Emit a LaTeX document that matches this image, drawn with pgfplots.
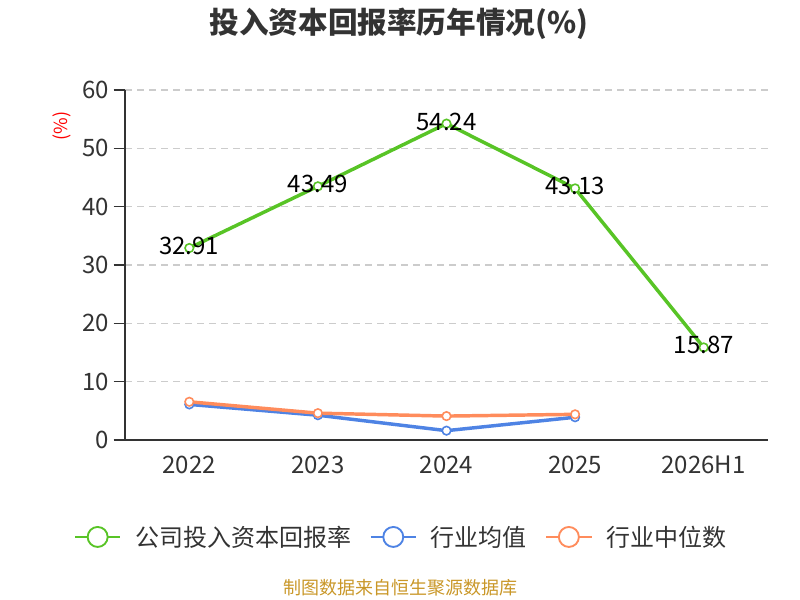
\documentclass[border=0pt]{standalone}
\usepackage{fontspec}
\setmainfont{Noto Sans CJK SC}
\usepackage{pgfplots}
\pgfplotsset{compat=1.18}
\definecolor{cgreen}{RGB}{88,196,38}
\definecolor{cblue}{RGB}{78,131,228}
\definecolor{corange}{RGB}{255,140,92}
\definecolor{ctext}{RGB}{51,51,51}
\definecolor{cgrid}{RGB}{204,204,204}
\definecolor{csrc}{RGB}{201,151,40}
\begin{document}
\begin{tikzpicture}
\path[use as bounding box] (0,0) rectangle (600pt,450pt);
\node[font=\fontsize{22.2}{26}\selectfont\bfseries, text=ctext] at (299.25pt,432pt) {投入资本回报率历年情况(\%)};
\node[font=\fontsize{13.5}{16}\selectfont, text=csrc] at (300pt,9pt) {制图数据来自恒生聚源数据库};
\node[font=\fontsize{13.5}{16}\selectfont, text=red, rotate=90] at (46.5pt,355.5pt) {(\%)};
\begin{axis}[
  at={(93.75pt,120pt)}, anchor=south west,
  scale only axis, width=482.25pt, height=262.5pt,
  xmin=-0.5, xmax=4.5, ymin=0, ymax=60,
  xtick={0,1,2,3,4},
  xticklabels={2022,2023,2024,2025,2026H1},
  minor xtick={-0.5,0.5,1.5,2.5,3.5,4.5},
  ytick={0,10,20,30,40,50,60},
  axis x line*=bottom, axis y line*=left,
  axis line style={ctext, line width=1pt},
  tick align=outside,
  xtick style={draw=none},
  minor tick length=6pt,
  major tick length=8.5pt,
  minor x tick style={ctext, line width=1pt},
  ytick style={ctext, line width=1pt},
  ymajorgrids, grid style={cgrid, dashed, line width=0.8pt, dash pattern=on 5pt off 4pt},
  tick label style={font=\fontsize{18}{21}\selectfont, text=ctext},
  /pgf/number format/assume math mode=true,
  clip=false,
  legend columns=3,
  legend style={at={(0.43,-0.277)}, anchor=center, draw=none, fill=none,
     font=\fontsize{18}{21}\selectfont, text=ctext,
     /tikz/every even column/.append style={column sep=12pt}},
  legend image code/.code={
     \path[draw=none,fill=none] (0pt,0pt) -- (43pt,0pt);
     \draw[#1,line width=1.4pt] (0pt,0pt) -- (34pt,0pt);
     \draw[#1,line width=1.4pt,fill=white] (17pt,0pt) circle (7.5pt);
  },
]
\addplot[cgreen, line width=2.6pt, mark=*, mark size=3.2pt,
  mark options={fill=white, line width=1.2pt},
  point meta=explicit symbolic,
  nodes near coords, nodes near coords align={center},
  every node near coord/.append style={font=\fontsize{18}{21}\selectfont, text=black, anchor=center, yshift=1.5pt}]
  coordinates {(0,32.91)[32.91] (1,43.49)[43.49] (2,54.24)[54.24] (3,43.13)[43.13] (4,15.87)[15.87]};
\addlegendentry{公司投入资本回报率}
\addplot[cblue, line width=2.6pt, mark=*, mark size=3.2pt,
  mark options={fill=white, line width=1.2pt}]
  coordinates {(0,6.1) (1,4.25) (2,1.6) (3,3.9)};
\addlegendentry{行业均值}
\addplot[corange, line width=2.6pt, mark=*, mark size=3.2pt,
  mark options={fill=white, line width=1.2pt}]
  coordinates {(0,6.55) (1,4.6) (2,4.1) (3,4.4)};
\addlegendentry{行业中位数}
\end{axis}
\end{tikzpicture}
\end{document}
